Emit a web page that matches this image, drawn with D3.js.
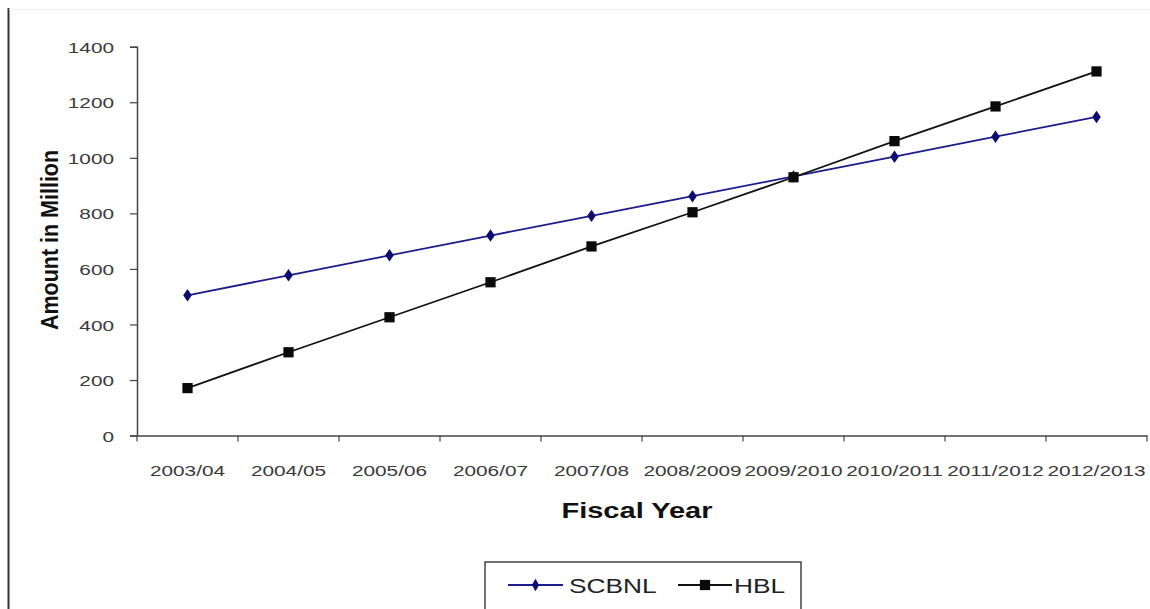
<!DOCTYPE html>
<html>
<head>
<meta charset="utf-8">
<script src="https://cdn.jsdelivr.net/npm/d3@7"></script>
<style>
  html, body { margin: 0; padding: 0; background: #fff; }
  svg { display: block; font-family: "Liberation Sans", Arial, sans-serif; }
</style>
</head>
<body>
<svg id="chart" width="1150" height="609"></svg>
<script>
// Fiscal years on the category axis
const categories = ["2003/04", "2004/05", "2005/06", "2006/07", "2007/08",
  "2008/2009", "2009/2010", "2010/2011", "2011/2012", "2012/2013"];
// Amounts in million per bank
const scbnl = [505, 577, 649, 720, 791, 862, 933, 1004, 1076, 1147];
const hbl = [171, 300, 426, 552, 681, 804, 930, 1060, 1185, 1311];
const yTicks = [0, 200, 400, 600, 800, 1000, 1200, 1400];
const seriesNames = ["SCBNL", "HBL"];

const SX = 1.35; // horizontal text stretch
const svg = d3.select("#chart");

// page frame
svg.append("line").attr("x1", 8.5).attr("x2", 8.5).attr("y1", 8).attr("y2", 609)
  .attr("stroke", "#333").attr("stroke-width", 2);
svg.append("line").attr("x1", 9).attr("x2", 1150).attr("y1", 9.5).attr("y2", 9.5)
  .attr("stroke", "#eee").attr("stroke-width", 1);

const plotLeft = 137, plotRight = 1147, plotTop = 46.7, plotBottom = 435.6;
const x = d3.scaleBand().domain(categories).range([plotLeft, plotRight]);
const y = d3.scaleLinear().domain([0, 1400]).range([plotBottom, plotTop]);

// y axis
const gy = svg.append("g").attr("transform", `translate(${plotLeft},0)`)
  .call(d3.axisLeft(y).tickValues(yTicks).tickSize(7).tickPadding(0).tickFormat(d3.format("d")));
gy.select(".domain").attr("stroke", "#444").attr("stroke-width", 1.5);
gy.selectAll(".tick line").attr("stroke", "#444").attr("stroke-width", 1.2);
gy.selectAll(".tick text")
  .attr("x", -23 / SX).attr("dy", "0.36em")
  .attr("transform", `scale(${SX},1)`)
  .attr("font-size", 15.4).attr("fill", "#3a3a3a");

// x axis: labels at band centres, ticks at band boundaries
const gx = svg.append("g").attr("transform", `translate(0,${plotBottom})`)
  .call(d3.axisBottom(x).tickSize(0).tickPadding(0));
gx.select(".domain").attr("stroke", "#444").attr("stroke-width", 1.5);
gx.selectAll(".tick text")
  .attr("y", 0).attr("dy", 0)
  .attr("transform", `translate(0,40) scale(${SX},1)`)
  .attr("font-size", 15.4).attr("fill", "#3a3a3a");
const bounds = categories.map(c => x(c)).concat([x.range()[1]]);
gx.selectAll("line.bound").data(bounds).enter().append("line")
  .attr("class", "bound")
  .attr("x1", d => d).attr("x2", d => d).attr("y1", 0).attr("y2", 6)
  .attr("stroke", "#444").attr("stroke-width", 1.2);

// axis titles
svg.append("text")
  .attr("transform", `translate(637,518) scale(${SX},1)`)
  .attr("text-anchor", "middle").attr("font-weight", "bold")
  .attr("font-size", 21.5).attr("fill", "#111").text("Fiscal Year");
svg.append("text")
  .attr("transform", `translate(58,240) scale(1.08,1) rotate(-90)`)
  .attr("text-anchor", "middle").attr("font-weight", "bold")
  .attr("font-size", 21.5).attr("fill", "#111").text("Amount in Million");

const cx = d => x(d) + x.bandwidth() / 2;
const line = d3.line().x((d, i) => cx(categories[i])).y(d => y(d));

const diamond = d3.symbol().type(d3.symbolDiamond).size(45);
const square = d3.symbol().type(d3.symbolSquare).size(105);

// SCBNL series
svg.append("path").datum(scbnl).attr("d", line)
  .attr("fill", "none").attr("stroke", "#1c1c8a").attr("stroke-width", 1.8);
svg.selectAll("path.scb").data(scbnl).enter().append("path")
  .attr("class", "scb")
  .attr("transform", (d, i) => `translate(${cx(categories[i])},${y(d)}) scale(1.2,1)`)
  .attr("d", diamond).attr("fill", "#0d0d70");

// HBL series
svg.append("path").datum(hbl).attr("d", line)
  .attr("fill", "none").attr("stroke", "#111").attr("stroke-width", 1.8);
svg.selectAll("path.hbl").data(hbl).enter().append("path")
  .attr("class", "hbl")
  .attr("transform", (d, i) => `translate(${cx(categories[i])},${y(d)})`)
  .attr("d", square).attr("fill", "#0a0a0a");

// legend
const lg = svg.append("g");
lg.append("rect").attr("x", 485).attr("y", 562).attr("width", 316).attr("height", 60)
  .attr("fill", "#fff").attr("stroke", "#444").attr("stroke-width", 1.5);
const items = [
  { name: seriesNames[0], x0: 508, x1: 563, color: "#1c1c8a", sym: diamond, mfill: "#0d0d70", tx: 569 },
  { name: seriesNames[1], x0: 678, x1: 732, color: "#111", sym: square, mfill: "#0a0a0a", tx: 734 }
];
items.forEach(it => {
  lg.append("line").attr("x1", it.x0).attr("x2", it.x1).attr("y1", 585).attr("y2", 585)
    .attr("stroke", it.color).attr("stroke-width", 2);
  lg.append("path").attr("d", it.sym)
    .attr("transform", `translate(${(it.x0 + it.x1) / 2},585)`)
    .attr("fill", it.mfill);
  lg.append("text").attr("transform", `translate(${it.tx},593) scale(${SX},1)`)
    .attr("font-size", 19.5).attr("fill", "#222").text(it.name);
});
</script>
</body>
</html>
